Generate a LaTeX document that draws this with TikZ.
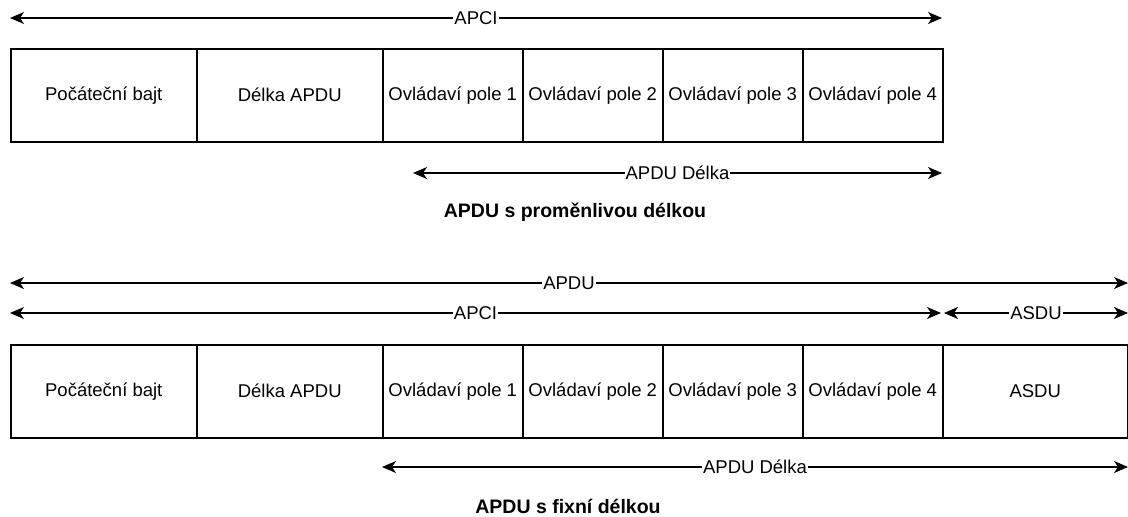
\documentclass[tikz,border=0pt]{standalone}
\usepackage{fontspec}
\setmainfont{Liberation Sans}
\usetikzlibrary{arrows.meta}
\tikzset{
  field/.style={draw, line width=1.5pt, minimum height=93pt, inner sep=0pt, anchor=north west,
    font=\fontsize{18.5}{21}\selectfont},
  span/.style={line width=1.5pt, {Stealth[length=14pt,width=12pt,inset=4pt]}-{Stealth[length=14pt,width=12pt,inset=4pt]}},
  spanlabel/.style={fill=white, inner sep=1pt, font=\fontsize{18.5}{21}\selectfont},
  caption/.style={font=\bfseries\fontsize{19.5}{22}\selectfont}
}
\begin{document}
\begin{tikzpicture}[x=1pt,y=-1pt]
\useasboundingbox (0,0) rectangle (1128,517);

% ---- variable-length frame ----
\node[field, minimum width=186pt] (a1) at (10,48) {Počáteční bajt};
\node[field, minimum width=186pt] (a2) at (196,48) {Délka APDU};
\node[field, minimum width=140pt] (a3) at (382,48) {Ovládaví pole 1};
\node[field, minimum width=140pt] (a4) at (522,48) {Ovládaví pole 2};
\node[field, minimum width=140pt] (a5) at (662,48) {Ovládaví pole 3};
\node[field, minimum width=140pt] (a6) at (802,48) {Ovládaví pole 4};

\coordinate (apciL) at (10,18);
\coordinate (apciR) at (942,18);
\draw[span] (apciL) -- node[spanlabel] {APCI} (apciR);

\coordinate (lenL) at (413,173);
\coordinate (lenR) at (942,173);
\draw[span] (lenL) -- node[spanlabel] {APDU Délka} (lenR);

\node[caption] (capA) at (575,212) {APDU s proměnlivou délkou};

% ---- fixed-length frame ----
\node[field, minimum width=186pt] (b1) at (10,344) {Počáteční bajt};
\node[field, minimum width=186pt] (b2) at (196,344) {Délka APDU};
\node[field, minimum width=140pt] (b3) at (382,344) {Ovládaví pole 1};
\node[field, minimum width=140pt] (b4) at (522,344) {Ovládaví pole 2};
\node[field, minimum width=140pt] (b5) at (662,344) {Ovládaví pole 3};
\node[field, minimum width=140pt] (b6) at (802,344) {Ovládaví pole 4};
\node[field, minimum width=185pt] (b7) at (942,344) {ASDU};

\coordinate (apduL) at (10,283);
\coordinate (apduR) at (1128,283);
\draw[span] (apduL) -- node[spanlabel] {APDU} (apduR);

\coordinate (apci2L) at (10,313);
\coordinate (apci2R) at (941,313);
\draw[span] (apci2L) -- node[spanlabel] {APCI} (apci2R);

\coordinate (asduL) at (944,313);
\coordinate (asduR) at (1128,313);
\draw[span] (asduL) -- node[spanlabel] {ASDU} (asduR);

\coordinate (len2L) at (382,467);
\coordinate (len2R) at (1128,467);
\draw[span] (len2L) -- node[spanlabel] {APDU Délka} (len2R);

\node[caption] (capB) at (568,506) {APDU s fixní délkou};
\end{tikzpicture}
\end{document}
